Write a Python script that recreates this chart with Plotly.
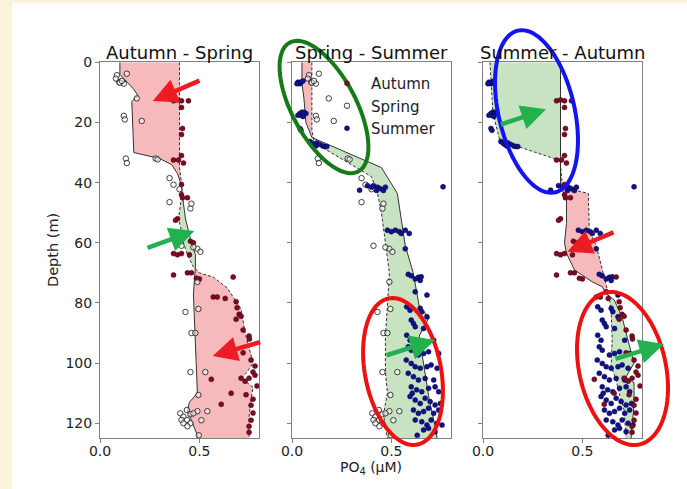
import numpy as np
import plotly.graph_objects as go

# ---------------- DATA ----------------
seasons = ["Autumn", "Spring", "Summer"]
panel_titles = ["Autumn - Spring", "Spring - Summer", "Summer - Autumn"]
x_ticks = [0.0, 0.5]
y_ticks = [0, 20, 40, 60, 80, 100, 120]

# Raw observations: PO4 (uM) and depth (m)
autumn_po4 = [0.37, 0.39, 0.41, 0.445, 0.41, 0.41, 0.415, 0.37, 0.395, 0.41, 0.42, 0.41, 0.41, 0.415, 0.44,
              0.39, 0.38, 0.455, 0.47, 0.37, 0.39, 0.41, 0.45, 0.37, 0.46, 0.50, 0.67, 0.57, 0.59, 0.63,
              0.69, 0.70, 0.685, 0.71, 0.72, 0.75, 0.72, 0.76, 0.78, 0.77, 0.78, 0.79, 0.71, 0.73, 0.75,
              0.56, 0.66, 0.61, 0.77, 0.76, 0.77, 0.76, 0.75, 0.75, 0.485, 0.44, 0.685, 0.735, 0.752]
autumn_depth = [12.8, 12.5, 12.8, 12.8, 15, 24, 22, 32.5, 32.5, 31, 33.5, 40.6, 44, 45, 45,
                52, 52.5, 59.5, 60, 63.6, 64, 63.6, 64, 70.7, 70, 72, 71.4, 78, 78, 78.5,
                81.6, 83.8, 85.4, 84.4, 89, 91, 96.6, 99, 101, 103, 104, 107.6, 105, 106, 105,
                105.4, 110, 113.7, 112, 114, 116.6, 119, 121, 123, 71.8, 70, 79.6, 110.5, 92]

spring_po4 = [0.085, 0.08, 0.097, 0.12, 0.135, 0.185, 0.12, 0.125, 0.21, 0.13, 0.135, 0.28, 0.35, 0.37,
              0.40, 0.35, 0.455, 0.46, 0.49, 0.505, 0.47, 0.41, 0.43, 0.495, 0.46, 0.48, 0.455, 0.53,
              0.495, 0.49, 0.54, 0.51, 0.404, 0.42, 0.437, 0.437, 0.455, 0.455, 0.47, 0.41, 0.42, 0.44,
              0.497, 0.49, 0.10, 0.11, 0.29]
spring_depth = [4.3, 5.4, 6.6, 7.1, 3.8, 12, 17.8, 19, 19.5, 32, 33.5, 32, 38.5, 40.7,
                42.2, 46.5, 48.6, 47, 62, 63, 61.5, 61, 83, 82, 90, 90, 103, 103,
                110.6, 116, 116, 119, 116.7, 117.8, 115.6, 118.9, 117, 120, 116.7, 118.9, 120, 121,
                124, 73, 6.8, 6.2, 32.3]

summer_po4 = [0.03, 0.04, 0.045, 0.055, 0.025, 0.04, 0.045, 0.05, 0.06, 0.07, 0.03, 0.055, 0.04, 0.045,
              0.09, 0.10, 0.11, 0.125, 0.14, 0.155, 0.12, 0.165, 0.175,
              0.34, 0.38, 0.40, 0.41, 0.43, 0.445, 0.46, 0.47, 0.425, 0.76,
              0.48, 0.50, 0.52, 0.54, 0.55, 0.57, 0.59, 0.57,
              0.585, 0.60, 0.62, 0.636, 0.645, 0.65,
              0.62, 0.679, 0.577, 0.594, 0.645, 0.653, 0.679, 0.60, 0.611, 0.62, 0.662, 0.577, 0.594,
              0.713, 0.738, 0.585, 0.60, 0.636, 0.662, 0.687, 0.60, 0.62, 0.645, 0.679, 0.70, 0.73,
              0.585, 0.611, 0.636, 0.67, 0.713, 0.60, 0.627, 0.653, 0.687, 0.72, 0.738, 0.594, 0.62,
              0.645, 0.67, 0.695, 0.72, 0.747, 0.611, 0.636, 0.662, 0.687, 0.713, 0.738, 0.62, 0.653,
              0.679, 0.70, 0.73, 0.755, 0.662, 0.687, 0.72, 0.575, 0.605, 0.63]
summer_depth = [6.6, 7.1, 6.6, 6.2, 7.1, 17, 17.6, 16.6, 16.6, 17, 17.6, 18, 22, 22.6,
                26.3, 26.8, 27.3, 26.8, 27.3, 27.8, 27.8, 28, 28,
                42.5, 41, 41.5, 41, 41.5, 42, 42.6, 41.5, 42.6, 41.4,
                55.8, 56.3, 55.8, 56.3, 56.9, 55.8, 56.9, 62,
                70.5, 71, 72, 71.5, 72.5, 71.3,
                76.3, 77.4, 81.3, 82.4, 81.8, 82.9, 84.6, 85.7, 86.8, 87.9, 88.5, 90.7, 92.4,
                92.4, 96.8, 94.6, 95.7, 97.3, 96.8, 96.2, 100.1, 101.2, 101.7, 101.2, 100.6, 101.7,
                103.4, 104.5, 105.6, 105.1, 105.6, 107.9, 108.9, 109.5, 108.4, 107.9, 109.5, 111.1, 112.3,
                113.4, 111.7, 112.8, 113.9, 113.4, 115.6, 116.7, 116.1, 115.0, 116.7, 115.6, 118.9, 119.5,
                120.6, 118.9, 120.0, 120.6, 122.2, 121.7, 122.8, 99, 110, 124]

# Mean profiles per panel: earlier season (dashed) and later season (solid)
p1_autumn_depth = [0, 35, 40, 45, 52, 56, 60, 64, 68, 70, 71.4, 75, 78, 82, 90, 97, 100, 103, 105, 107, 108, 112, 118, 125]
p1_autumn_po4 = [0.40, 0.40, 0.41, 0.41, 0.395, 0.41, 0.42, 0.44, 0.47, 0.50, 0.57, 0.64, 0.67, 0.71, 0.73, 0.76, 0.77, 0.74, 0.71, 0.75, 0.77, 0.76, 0.75, 0.75]
p1_spring_depth = [0, 4, 9, 11, 13, 30, 32, 34, 37, 41, 47, 52, 56, 60, 64, 68, 77, 92, 110, 113, 116, 119, 124, 125]
p1_spring_po4 = [0.10, 0.10, 0.17, 0.19, 0.16, 0.17, 0.30, 0.36, 0.39, 0.41, 0.42, 0.43, 0.445, 0.46, 0.48, 0.48, 0.47, 0.48, 0.49, 0.45, 0.44, 0.46, 0.49, 0.49]

p2_spring_depth = [0, 22.6, 26, 29, 38, 43.5, 50, 60, 70, 81, 91, 103, 110, 117, 125]
p2_spring_po4 = [0.10, 0.10, 0.11, 0.17, 0.40, 0.43, 0.45, 0.47, 0.49, 0.48, 0.47, 0.47, 0.48, 0.46, 0.48]
p2_summer_depth = [0, 7, 12, 20, 25, 27, 35, 43.6, 48, 61, 70, 81, 85, 87, 91, 103, 112, 121, 125]
p2_summer_po4 = [0.05, 0.05, 0.06, 0.07, 0.10, 0.17, 0.45, 0.53, 0.54, 0.57, 0.61, 0.64, 0.69, 0.67, 0.64, 0.67, 0.69, 0.72, 0.73]

p3_summer_depth = [0, 17, 26, 32.6, 34, 41.5, 43.6, 56, 61, 63.5, 71, 78, 83, 92, 101, 105.6, 110, 115.6, 125]
p3_summer_po4 = [0.035, 0.05, 0.085, 0.385, 0.39, 0.40, 0.53, 0.535, 0.57, 0.58, 0.61, 0.635, 0.645, 0.65, 0.645, 0.67, 0.685, 0.71, 0.72]
p3_autumn_depth = [0, 41.5, 45, 53.6, 60, 63.5, 69, 73, 74.6, 77, 79, 84.7, 90, 100, 104.6, 106.6, 114, 125]
p3_autumn_po4 = [0.39, 0.39, 0.42, 0.42, 0.41, 0.42, 0.46, 0.55, 0.60, 0.62, 0.66, 0.70, 0.72, 0.76, 0.72, 0.76, 0.76, 0.745]

# ---------------- STYLE / LAYOUT ----------------
W, H = 687, 489
FONT = "DejaVu Sans"
CREAM = "#fbf2dc"
PINK = "#f6b9bc"
GREEN = "#c8e3c2"
AUTUMN_C = "#7e0a24"
SUMMER_C = "#12128a"


def px(x):
    return x / W


def py(y):
    return 1 - y / H


panel_px = [(100, 259), (292, 451), (483, 642)]
top_px, bot_px = 62.3, 438.3

obs = {
    "Autumn": (autumn_po4, autumn_depth),
    "Spring": (spring_po4, spring_depth),
    "Summer": (summer_po4, summer_depth),
}
marker_style = {
    "Autumn": dict(color=AUTUMN_C, size=5, line=dict(color="#4a0010", width=0.5)),
    "Spring": dict(color="rgba(255,255,255,0.5)", size=5.5, symbol="circle",
                   line=dict(color="#2a2a2a", width=0.9)),
    "Summer": dict(color=SUMMER_C, size=5, line=dict(color="#05054a", width=0.5)),
}

panels = [
    ("Autumn", "Spring", p1_autumn_depth, p1_autumn_po4, p1_spring_depth, p1_spring_po4),
    ("Spring", "Summer", p2_spring_depth, p2_spring_po4, p2_summer_depth, p2_summer_po4),
    ("Summer", "Autumn", p3_summer_depth, p3_summer_po4, p3_autumn_depth, p3_autumn_po4),
]


def fill_segments(d_e, x_e, d_l, x_l):
    grid = np.unique(np.concatenate([np.asarray(d_e, float), np.asarray(d_l, float)]))
    a = np.interp(grid, d_e, x_e)
    b = np.interp(grid, d_l, x_l)
    diff = b - a
    segs = []
    cd, ca, cb = [grid[0]], [a[0]], [b[0]]
    cs = np.sign(diff[0])
    for i in range(1, len(grid)):
        s = np.sign(diff[i])
        if s != 0 and cs != 0 and s != cs:
            t = diff[i - 1] / (diff[i - 1] - diff[i])
            dc = grid[i - 1] + t * (grid[i] - grid[i - 1])
            xc = a[i - 1] + t * (a[i] - a[i - 1])
            cd.append(dc); ca.append(xc); cb.append(xc)
            segs.append((cs, cd, ca, cb))
            cd, ca, cb = [dc], [xc], [xc]
            cs = s
        cd.append(grid[i]); ca.append(a[i]); cb.append(b[i])
        if cs == 0:
            cs = s
    segs.append((cs, cd, ca, cb))
    return segs


fig = go.Figure()
shown = set()
for k, (early, late, de, xe, dl, xl) in enumerate(panels):
    xa = "x" if k == 0 else f"x{k+1}"
    ya = "y" if k == 0 else f"y{k+1}"
    for s, cd, ca, cb in fill_segments(de, xe, dl, xl):
        if s == 0:
            continue
        fig.add_trace(go.Scatter(
            x=list(cb) + list(ca)[::-1], y=list(cd) + list(cd)[::-1],
            mode="lines", fill="toself", fillcolor=GREEN if s > 0 else PINK,
            line=dict(width=0), hoverinfo="skip", showlegend=False, xaxis=xa, yaxis=ya))
    fig.add_trace(go.Scatter(x=xe, y=de, mode="lines",
                             line=dict(color="#333", width=1, dash="3px,2px"),
                             showlegend=False, xaxis=xa, yaxis=ya))
    fig.add_trace(go.Scatter(x=xl, y=dl, mode="lines",
                             line=dict(color="#333", width=1),
                             showlegend=False, xaxis=xa, yaxis=ya))
    for season in (early, late):
        xs, ds = obs[season]
        fig.add_trace(go.Scatter(x=xs, y=ds, mode="markers", name=season,
                                 marker=marker_style[season],
                                 showlegend=season not in shown,
                                 xaxis=xa, yaxis=ya))
        shown.add(season)

axis_common = dict(showgrid=False, zeroline=False, showline=True, mirror=True, automargin=False,
                   linecolor="#808080", linewidth=1, ticks="outside", ticklen=4,
                   tickcolor="#808080", tickfont=dict(family=FONT, size=14, color="#222"))
layout = dict(
    template="none",
    width=W, height=H, autosize=False,
    margin=dict(l=0, r=0, t=0, b=0, pad=0, autoexpand=False),
    paper_bgcolor="white", plot_bgcolor="white",
    font=dict(family=FONT, color="#222"),
    legend=dict(x=px(323), y=py(67), xanchor="left", yanchor="top",
                bgcolor="rgba(0,0,0,0)", font=dict(family=FONT, size=15, color="#222"),
                itemwidth=38, traceorder="normal"),
)
for k, (l, r) in enumerate(panel_px):
    xk = "xaxis" if k == 0 else f"xaxis{k+1}"
    yk = "yaxis" if k == 0 else f"yaxis{k+1}"
    layout[xk] = dict(axis_common, domain=[px(l), px(r)], range=[0, 0.8],
                      tickvals=x_ticks, tickformat=".1f", ticklabelstandoff=-4,
                      anchor="y" if k == 0 else f"y{k+1}")
    layout[yk] = dict(axis_common, domain=[py(bot_px), py(top_px)], range=[125, 0],
                      tickvals=y_ticks, showticklabels=(k == 0),
                      anchor="x" if k == 0 else f"x{k+1}")
fig.update_layout(**layout)

# titles and axis labels
for k, (l, r) in enumerate(panel_px):
    fig.add_annotation(x=px((l + r) / 2), y=py(52), xref="paper", yref="paper",
                       text=panel_titles[k], showarrow=False, xanchor="center", yanchor="middle",
                       font=dict(family=FONT, size=18, color="#111"))
fig.add_annotation(x=px(53), y=py(250), xref="paper", yref="paper", text="Depth (m)",
                   textangle=-90, showarrow=False, xanchor="center", yanchor="middle",
                   font=dict(family=FONT, size=14.5, color="#222"))
fig.add_annotation(x=px(371), y=py(468), xref="paper", yref="paper", text="PO<sub>4</sub> (µM)",
                   showarrow=False, xanchor="center", yanchor="middle",
                   font=dict(family=FONT, size=14, color="#222"))

# background cream strips
fig.add_shape(type="rect", xref="paper", yref="paper", x0=0, x1=px(12), y0=0, y1=1,
              fillcolor=CREAM, line=dict(width=0), layer="below")
fig.add_shape(type="rect", xref="paper", yref="paper", x0=0, x1=1, y0=py(3), y1=1,
              fillcolor=CREAM, line=dict(width=0), layer="below")


# highlight ellipses (annotation overlays)
def ellipse_path(cx, cy, a, b, theta_deg, n=90):
    th = np.radians(theta_deg)
    pts = []
    for t in np.linspace(0, 2 * np.pi, n, endpoint=False):
        u, v = b * np.cos(t), a * np.sin(t)
        x = cx + u * np.cos(th) + v * np.sin(th)
        y = cy - u * np.sin(th) + v * np.cos(th)
        pts.append(f"{px(x):.5f},{py(y):.5f}")
    return "M " + " L ".join(pts) + " Z"


ellipses = [
    (324, 107, 73, 32, 28, "#167a16"),
    (536.5, 111.5, 83, 38, 13, "#1414ee"),
    (403, 371.5, 74.5, 38, 11, "#ee1111"),
    (622.5, 368.5, 77.8, 43.3, 12.5, "#ee1111"),
]
for cx, cy, a, b, th, c in ellipses:
    fig.add_shape(type="path", path=ellipse_path(cx, cy, a, b, th), xref="paper", yref="paper",
                  line=dict(color=c, width=4), layer="above")

arrows = [
    ((201, 80), (152.7, 101), "#ed1c24"),
    ((146, 248.3), (194.3, 231), "#22b14c"),
    ((261.7, 341.7), (212.7, 356), "#ed1c24"),
    ((385, 355.7), (435, 340), "#22b14c"),
    ((499.3, 125), (546, 109.3), "#22b14c"),
    ((615, 231.7), (567.3, 251.7), "#ed1c24"),
    ((614, 359.3), (664, 344), "#22b14c"),
]
for (tx, ty), (hx, hy), c in arrows:
    fig.add_annotation(x=px(hx), y=py(hy), xref="paper", yref="paper",
                       ax=tx - hx, ay=ty - hy, axref="pixel", ayref="pixel",
                       text="", showarrow=True, arrowhead=2, arrowsize=1.1,
                       arrowwidth=4.5, arrowcolor=c, standoff=0)

fig.write_html("out.html", config={"displayModeBar": False},
               post_script="document.body.style.margin='0px';")
